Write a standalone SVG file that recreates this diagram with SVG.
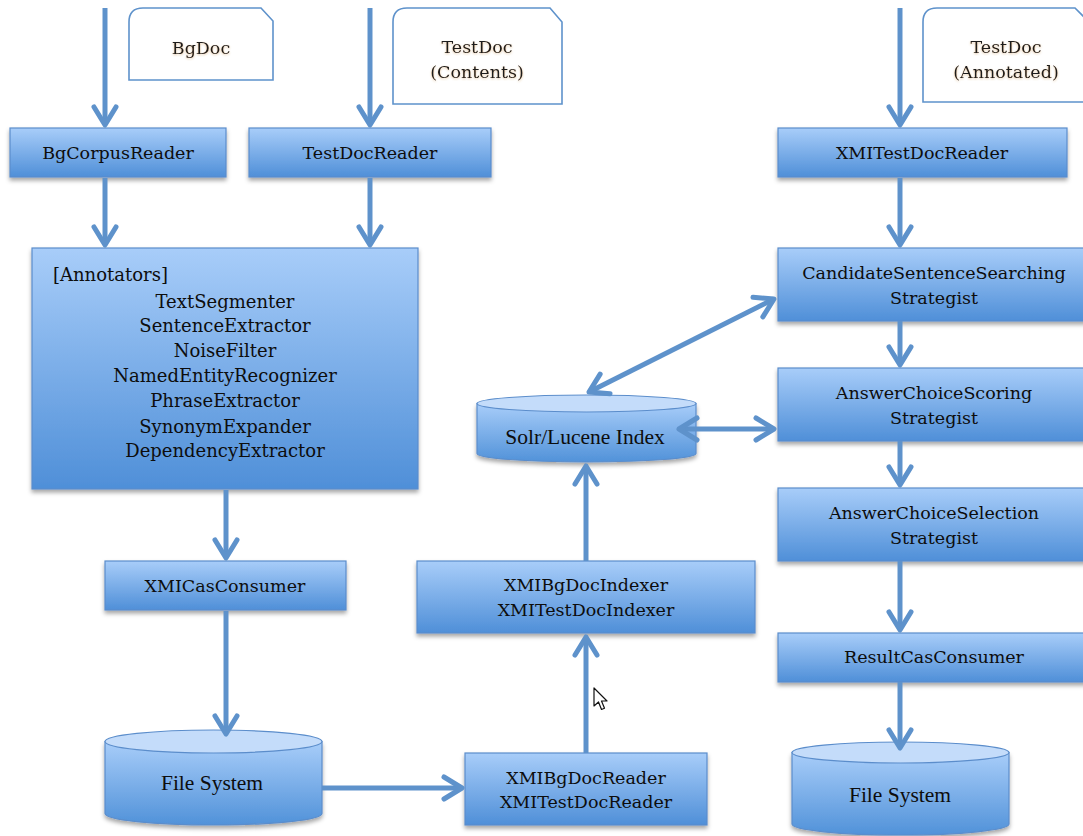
<svg xmlns="http://www.w3.org/2000/svg" width="1083" height="836" viewBox="0 0 1083 836">
<style>
.box{fill:url(#gBox);stroke:#5b8dcb;stroke-width:1.2;filter:url(#sh)}
.cyl{fill:url(#gCyl);stroke:#5b8dcb;stroke-width:1.2;filter:url(#sh)}
.cyltop{fill:#c4dcfa;stroke:#5b8dcb;stroke-width:1.2}
.doc{fill:#fff;stroke:#5e92cb;stroke-width:1.6}
.lbl{font-family:"DejaVu Serif",serif;font-size:17.5px;fill:#0d0d0d;text-anchor:middle}
.ann{font-family:"DejaVu Serif",serif;font-size:18px;fill:#0d0d0d;text-anchor:middle}
.clbl{font-family:"Liberation Serif",serif;font-size:21.5px;fill:#0d0d0d;text-anchor:middle}
.doctxt{font-family:"DejaVu Serif",serif;font-size:17.5px;fill:#1a1a1a;text-anchor:middle;filter:url(#tsh)}
.ln{fill:none;stroke:#5e92cb;stroke-width:5}
</style>
<defs>
<linearGradient id="gBox" x1="0" y1="0" x2="0" y2="1">
<stop offset="0" stop-color="#a8cdf9"/>
<stop offset="1" stop-color="#4f8fd8"/>
</linearGradient>
<linearGradient id="gCyl" x1="0" y1="0" x2="0" y2="1">
<stop offset="0" stop-color="#a8cdf9"/>
<stop offset="1" stop-color="#5192d9"/>
</linearGradient>
<filter id="sh" x="-10%" y="-10%" width="120%" height="130%">
<feDropShadow dx="0" dy="3" stdDeviation="2.2" flood-color="#000" flood-opacity="0.35"/>
</filter>
<filter id="tsh" x="-10%" y="-20%" width="120%" height="150%">
<feDropShadow dx="0" dy="1" stdDeviation="1" flood-color="#c08030" flood-opacity="0.45"/>
</filter>
<marker id="ah" viewBox="-22 -14 26 28" refX="0" refY="0" markerWidth="26" markerHeight="28" markerUnits="userSpaceOnUse" orient="auto-start-reverse" overflow="visible">
<path d="M-18,-11 L0,0 L-18,11" fill="none" stroke="#5e92cb" stroke-width="5" stroke-linecap="round" stroke-linejoin="round"/>
</marker>
</defs>
<rect width="1083" height="836" fill="#fff"/>

<g id="bgdoc">
<path class="doc" d="M129,80 L129,22 Q129,8 143,8 L261,8 L273,21 L273,80 Z"/>
<text class="doctxt" x="201" y="54">BgDoc</text>
</g>
<g id="testdoc-contents">
<path class="doc" d="M393,104 L393,22 Q393,8 407,8 L550,8 L562,22 L562,104 Z"/>
<text class="doctxt" x="477" y="53">TestDoc</text>
<text class="doctxt" x="477" y="78">(Contents)</text>
</g>
<g id="testdoc-annotated">
<path class="doc" d="M923,102 L923,22 Q923,8 937,8 L1075,8 L1089,22 L1089,102 Z"/>
<text class="doctxt" x="1006" y="53">TestDoc</text>
<text class="doctxt" x="1006" y="78">(Annotated)</text>
</g>

<g id="bgcorpusreader">
<rect class="box" x="10" y="128" width="216" height="49"/>
<text class="lbl" x="118" y="159">BgCorpusReader</text>
</g>
<g id="testdocreader">
<rect class="box" x="249" y="128" width="242" height="49"/>
<text class="lbl" x="370" y="159">TestDocReader</text>
</g>
<g id="xmitestdocreader-top">
<rect class="box" x="778" y="128" width="289" height="49"/>
<text class="lbl" x="922" y="159">XMITestDocReader</text>
</g>

<g id="annotators">
<rect class="box" x="32" y="248" width="386" height="241"/>
<text class="ann" x="53" y="281" style="text-anchor:start">[Annotators]</text>
<text class="ann" x="225" y="308">TextSegmenter</text>
<text class="ann" x="225" y="332">SentenceExtractor</text>
<text class="ann" x="225" y="357">NoiseFilter</text>
<text class="ann" x="225" y="382">NamedEntityRecognizer</text>
<text class="ann" x="225" y="407">PhraseExtractor</text>
<text class="ann" x="225" y="433">SynonymExpander</text>
<text class="ann" x="225" y="457">DependencyExtractor</text>
</g>

<g id="xmicasconsumer">
<rect class="box" x="105" y="561" width="241" height="49"/>
<text class="lbl" x="225" y="592">XMICasConsumer</text>
</g>

<g id="filesystem-left">
<path class="cyl" d="M105,741.5 L105,813.5 A108.5,11.5 0 0 0 322,813.5 L322,741.5 Z"/>
<ellipse class="cyltop" cx="213.5" cy="741.5" rx="108.5" ry="11.5"/>
<text class="clbl" x="212" y="790">File System</text>
</g>

<g id="xmibgdocreader">
<rect class="box" x="465" y="753" width="242" height="72"/>
<text class="lbl" x="586" y="784">XMIBgDocReader</text>
<text class="lbl" x="586" y="808">XMITestDocReader</text>
</g>

<g id="xmibgdocindexer">
<rect class="box" x="417" y="561" width="338" height="72"/>
<text class="lbl" x="586" y="591">XMIBgDocIndexer</text>
<text class="lbl" x="586" y="616">XMITestDocIndexer</text>
</g>

<g id="solr">
<path class="cyl" d="M477,403.5 L477,453.5 A109.5,8.5 0 0 0 696,453.5 L696,403.5 Z"/>
<ellipse class="cyltop" cx="586.5" cy="403.5" rx="109.5" ry="8.5"/>
<text class="clbl" x="585" y="444">Solr/Lucene Index</text>
</g>

<g id="candidate">
<rect class="box" x="778" y="248" width="312" height="73"/>
<text class="lbl" x="934" y="279">CandidateSentenceSearching</text>
<text class="lbl" x="934" y="304">Strategist</text>
</g>
<g id="scoring">
<rect class="box" x="778" y="368" width="312" height="73"/>
<text class="lbl" x="934" y="399">AnswerChoiceScoring</text>
<text class="lbl" x="934" y="424">Strategist</text>
</g>
<g id="selection">
<rect class="box" x="778" y="488" width="312" height="73"/>
<text class="lbl" x="934" y="519">AnswerChoiceSelection</text>
<text class="lbl" x="934" y="544">Strategist</text>
</g>
<g id="resultcasconsumer">
<rect class="box" x="778" y="633" width="312" height="49"/>
<text class="lbl" x="934" y="663">ResultCasConsumer</text>
</g>

<g id="filesystem-right">
<path class="cyl" d="M792,752.5 L792,824 A108.5,11 0 0 0 1009,824 L1009,752.5 Z"/>
<ellipse class="cyltop" cx="900.5" cy="752.5" rx="108.5" ry="10.5"/>
<text class="clbl" x="900" y="802">File System</text>
</g>

<g id="connectors">
<line class="ln" x1="105" y1="8" x2="105" y2="125" marker-end="url(#ah)"/>
<line class="ln" x1="370" y1="8" x2="370" y2="125" marker-end="url(#ah)"/>
<line class="ln" x1="900" y1="8" x2="900" y2="125" marker-end="url(#ah)"/>
<line class="ln" x1="105" y1="178" x2="105" y2="245" marker-end="url(#ah)"/>
<line class="ln" x1="370" y1="178" x2="370" y2="245" marker-end="url(#ah)"/>
<line class="ln" x1="900" y1="178" x2="900" y2="245" marker-end="url(#ah)"/>
<line class="ln" x1="226" y1="490" x2="226" y2="558" marker-end="url(#ah)"/>
<line class="ln" x1="226" y1="611" x2="226" y2="734" marker-end="url(#ah)"/>
<line class="ln" x1="322" y1="788" x2="462" y2="788" marker-end="url(#ah)"/>
<line class="ln" x1="586" y1="753" x2="586" y2="637" marker-end="url(#ah)"/>
<line class="ln" x1="586" y1="561" x2="586" y2="466" marker-end="url(#ah)"/>
<line class="ln" x1="589" y1="392" x2="774" y2="299" marker-start="url(#ah)" marker-end="url(#ah)"/>
<line class="ln" x1="679" y1="429" x2="774" y2="429" marker-start="url(#ah)" marker-end="url(#ah)"/>
<line class="ln" x1="900" y1="321" x2="900" y2="365" marker-end="url(#ah)"/>
<line class="ln" x1="900" y1="441" x2="900" y2="485" marker-end="url(#ah)"/>
<line class="ln" x1="900" y1="561" x2="900" y2="630" marker-end="url(#ah)"/>
<line class="ln" x1="900" y1="682" x2="900" y2="748" marker-end="url(#ah)"/>
</g>

<g id="cursor">
<path d="M594,688 L594,706 L598.5,702 L601.5,709.5 L604.5,708.3 L601.5,701 L607,701 Z" fill="#fff" stroke="#111" stroke-width="1.2" stroke-linejoin="round"/>
</g>
</svg>
